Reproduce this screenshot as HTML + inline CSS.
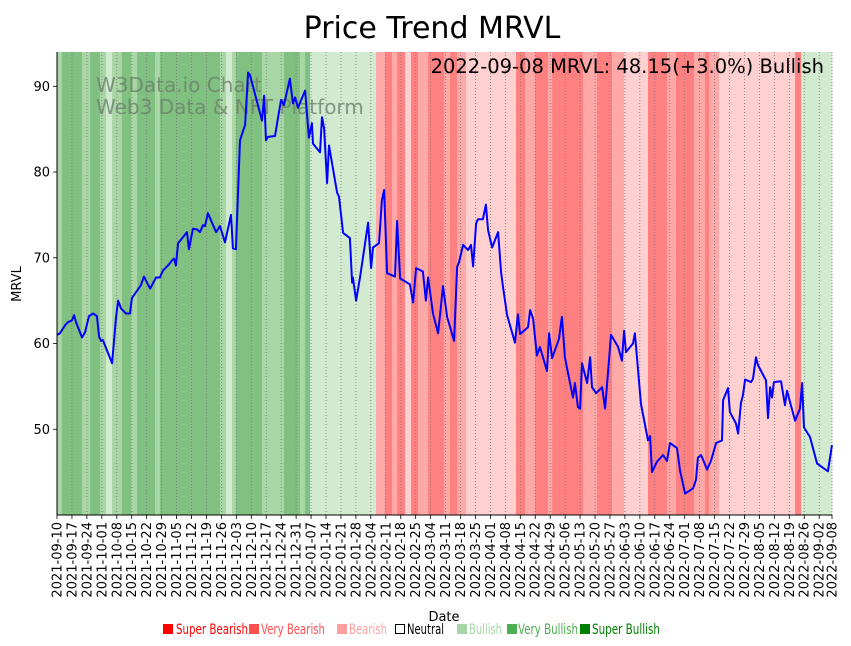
<!DOCTYPE html>
<html><head><meta charset="utf-8"><style>
html,body{margin:0;padding:0;background:#fff;}
svg{display:block;font-family:"DejaVu Sans","Liberation Sans",sans-serif;}
</style></head><body>
<svg id="chart" width="851" height="646" viewBox="0 0 851 646">
<text x="432" y="38" font-size="30" text-anchor="middle">Price Trend MRVL</text>
<g id="bands"></g>
<g id="grid"></g>
<text x="96" y="92" font-size="20" fill="#6b7f6b" fill-opacity="0.8">W3Data.io Chart</text>
<text x="96" y="114" font-size="20" fill="#6b7f6b" fill-opacity="0.8">Web3 Data &amp; NFT Platform</text>
<g id="line"></g>
<text x="824" y="73" font-size="19.5" text-anchor="end">2022-09-08 MRVL: 48.15(+3.0%) Bullish</text>
<g id="axes"></g>
<text x="444" y="621" font-size="13" text-anchor="middle">Date</text>
<text x="21" y="284" font-size="13" text-anchor="middle" transform="rotate(-90 21 284)">MRVL</text>
<g id="legend"></g>
</svg>
<script>
const days=[0,1.4,3.7,5.2,7.0,8.0,8.9,11.7,13.1,15.0,16.9,18.7,19.7,20.6,21.5,23.9,25.8,27.6,28.6,30.0,32.3,34.2,35.1,39.3,40.7,43.6,46.4,48.2,49.6,52.0,53.9,54.8,55.7,56.7,60.9,61.8,63.7,65.6,67.0,68.4,69.3,70.7,74.5,76.3,78.7,81.5,82.4,83.8,85.7,88.1,89.5,90.4,96.0,97.0,97.9,98.8,102.1,104.9,106.3,109.1,110.5,111.5,112.9,116.2,118.0,119.4,119.9,123.2,124.1,125.1,126.5,127.4,131.2,132.1,134.0,137.2,138.2,138.6,140.1,141.9,144.3,145.7,147.1,148.0,150.8,152.2,153.2,154.6,158.3,159.3,160.7,165.3,166.8,168.2,171.4,172.8,173.8,176.1,178.5,180.8,182.7,186.0,187.4,188.3,190.2,192.5,193.9,194.9,196.3,197.2,199.5,200.9,201.9,203.8,206.6,208.0,208.9,210.8,214.5,215.9,216.9,220.6,221.6,223.0,224.8,226.2,229.5,230.5,231.9,235.1,236.5,237.9,239.4,241.7,242.6,244.0,245.0,245.9,248.3,249.7,250.6,252.5,255.3,256.7,259.5,262.8,264.6,265.6,266.5,269.8,270.7,273.5,276.8,277.8,278.7,281.0,283.9,285.7,287.1,290.4,291.8,294.2,297.9,299.3,300.2,301.7,304.5,306.3,308.7,311.5,312.0,314.3,315.2,318.0,319.0,320.4,321.3,322.3,325.1,326.0,327.4,328.3,332.1,333.0,334.0,334.9,335.8,339.1,341.0,341.9,345.7,348.0,349.0,349.9,352.7,356.0,361.1,363];
const prices=[61.0,61.2,62.1,62.5,62.7,63.3,62.5,60.7,61.3,63.2,63.5,63.2,60.8,60.3,60.4,58.9,57.7,62.9,65.0,64.1,63.5,63.5,65.3,66.8,67.8,66.4,67.7,67.7,68.5,69.1,69.7,69.9,69.1,71.7,73.0,71.0,73.4,73.3,73.0,73.8,73.7,75.2,73.0,73.7,71.8,75.0,71.1,71.0,83.7,85.5,91.6,91.3,86.0,88.9,83.7,84.1,84.2,88.4,87.8,90.9,88.0,88.7,87.5,89.5,84.0,85.7,83.3,82.3,86.4,85.1,78.7,83.1,77.6,77.1,72.9,72.3,67.1,67.7,65.0,67.7,71.7,74.1,68.8,71.2,71.7,76.7,77.9,68.2,67.8,74.3,67.6,66.9,64.8,68.8,68.4,65.0,67.7,63.5,61.2,66.7,63.1,60.3,68.9,69.5,71.5,70.9,71.5,69.0,74.0,74.5,74.5,76.2,73.2,71.2,73.0,68.3,66.6,63.3,60.1,63.4,61.1,61.9,63.9,62.9,58.6,59.6,56.8,61.2,58.3,60.5,63.1,58.4,56.5,53.7,55.4,52.6,52.4,57.7,55.4,58.4,54.9,54.2,54.9,52.4,61.0,59.6,58.0,61.5,59.0,60.0,61.2,53.0,48.7,49.2,45.0,46.2,47.0,46.3,48.4,47.8,45.2,42.5,43.1,44.1,46.7,47.0,45.3,46.3,48.4,48.7,53.4,54.8,52.0,50.7,49.5,53.1,54.0,55.8,55.5,55.9,58.4,57.5,55.7,51.3,54.9,53.7,55.5,55.6,52.8,54.5,51.0,52.4,55.4,50.2,49.1,46.0,45.1,48.15];
const bandStarts=[0,2.3,11.7,15.5,20.1,23,25.8,30.4,34.7,37.5,45.9,48.2,76.3,79.2,82,83.8,96,106.3,113.8,116.2,118.5,149.4,153.6,156.9,159.3,163,165.8,169.1,173.8,181.3,184.1,187.4,191.6,215,219.2,223.9,230,231.9,237.9,246.4,252.9,260,265.6,276.8,285.7,289.9,298.4,303.5,305.4,310.1,345.7,348.5];
const bandRegimes=[2,3,2,3,2,1,2,3,2,3,2,3,2,1,2,3,2,3,2,3,1,-2,-3,-2,-3,-1,-3,-2,-3,-2,-3,-2,-1,-3,-2,-3,-2,-3,-3,-2,-3,-2,-1,-3,-2,-3,-2,-3,-2,-1,-3,1];
const yTicks=[50,60,70,80,90];
const legendLabels=["Super Bearish","Very Bearish","Bearish","Neutral","Bullish","Very Bullish","Super Bullish"];

const NS="http://www.w3.org/2000/svg";
const X0=57,X1=832,Y0=52,Y1=515,DMAX=363,VMIN=40,VMAX=94;
const xs=d=>X0+d/DMAX*(X1-X0);
const ys=v=>Y1-(v-VMIN)/(VMAX-VMIN)*(Y1-Y0);
const bandColor={"-3":"#ff8080","-2":"#ffa8a8","-1":"#ffd0d0","0":"#ffffff","1":"#d2ebd0","2":"#a8d6a4","3":"#80c080"};
function mk(tag,attrs,parent){const e=document.createElementNS(NS,tag);for(const k in attrs)e.setAttribute(k,attrs[k]);parent.appendChild(e);return e;}

const gB=document.getElementById('bands');
bandStarts.forEach((s,i)=>{
  const e=i+1<bandStarts.length?bandStarts[i+1]:DMAX;
  const r=mk('rect',{x:xs(s),y:Y0,width:Math.max(0,xs(e)-xs(s))+0.3,height:Y1-Y0,fill:bandColor[bandRegimes[i]]},gB);
  
  
});

const start=new Date(Date.UTC(2021,8,10));
const tickDays=[];for(let d=0;d<=DMAX;d+=7)tickDays.push(d);tickDays.push(DMAX);
const fmt=d=>{const t=new Date(start.getTime()+d*86400000);return t.toISOString().slice(0,10);};
const gG=document.getElementById('grid'),gA=document.getElementById('axes');
tickDays.forEach(d=>{
  const l=mk('line',{x1:xs(d),x2:xs(d),y1:Y0,y2:Y1,stroke:"#777",'stroke-width':0.8,'stroke-dasharray':'1,2'},gG);
  
  
  mk('line',{x1:xs(d),x2:xs(d),y1:Y1,y2:Y1+4,stroke:"#000",'stroke-width':0.8},gA);
  const t=mk('text',{x:xs(d)+4.5,y:Y1+7,'font-size':13,'text-anchor':'end',transform:`rotate(-90 ${xs(d)+4.5} ${Y1+7})`},gA);
  t.textContent=fmt(d);
  
  
});
yTicks.forEach(v=>{
  mk('line',{x1:X0-4,x2:X0,y1:ys(v),y2:ys(v),stroke:"#000",'stroke-width':0.8},gA);
  const t=mk('text',{x:X0-7,y:ys(v)+4.5,'font-size':13,'text-anchor':'end'},gA);
  t.textContent=v;
  
  
});
mk('line',{x1:X0,x2:X0,y1:Y0,y2:Y1,stroke:"#000",'stroke-width':1},gA);
mk('line',{x1:X0,x2:X1,y1:Y1,y2:Y1,stroke:"#000",'stroke-width':1},gA);

const pts=days.map((d,i)=>xs(d).toFixed(1)+","+ys(prices[i]).toFixed(1)).join(" ");
const pl=mk('polyline',{points:pts,fill:"none",stroke:"#0000ff",'stroke-width':2,'stroke-linejoin':'round'},document.getElementById('line'));



const legX=[163,249,337,395,457,507,580];
const legTX=[176,261,349,407,469,518,592];
const legW=[72,64,38,37,33,60,68];
const legCol=["#ff0000","#ff5050","#ffa0a0","#ffffff","#a5d6a7","#4caf50","#008000"];
const legText=["#ff0000","#ff5050","#ffa0a0","#000000","#a5d6a7","#4caf50","#008000"];
const gL=document.getElementById('legend');
legendLabels.forEach((lab,i)=>{
  const g=mk('g',{},gL);
  
  
  mk('rect',{x:legX[i]+0.5,y:624.5,width:9,height:9,fill:legCol[i],stroke:i===3?"#000":legCol[i],'stroke-width':1},g);
  const t=mk('text',{x:legTX[i],y:634,'font-size':14,fill:legText[i],textLength:legW[i],lengthAdjust:'spacingAndGlyphs'},g);
  t.textContent=lab;
});
</script>
</body></html>
